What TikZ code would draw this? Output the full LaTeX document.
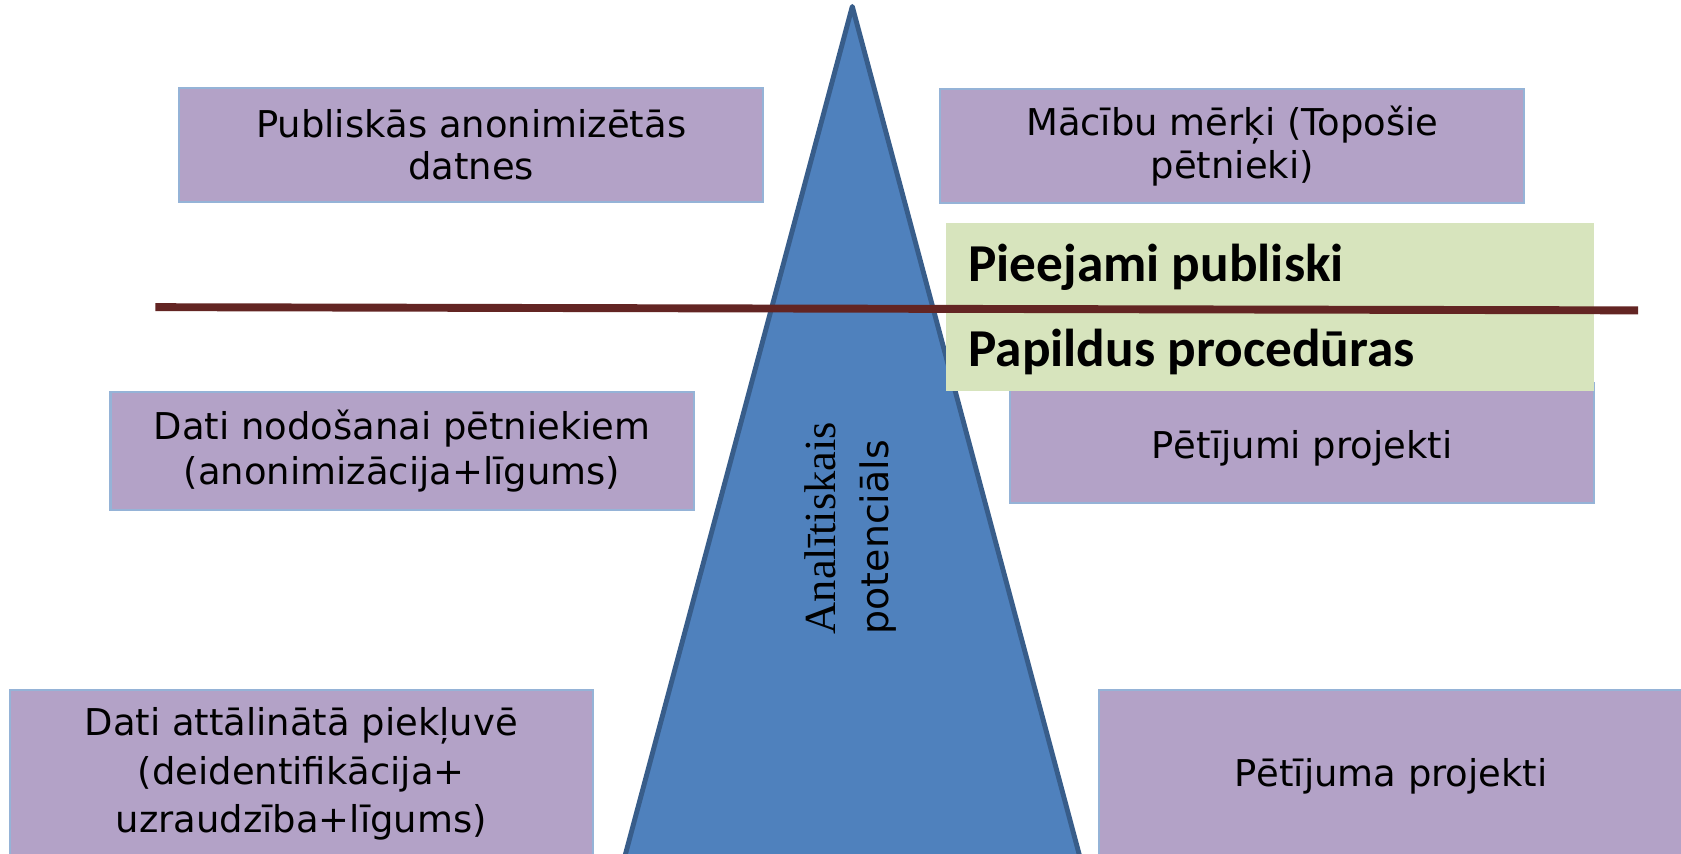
\documentclass[tikz,border=0pt]{standalone}
\usepackage{fontspec}
\setmainfont{DejaVu Sans}
\newfontfamily\calfont{Carlito}
\newfontfamily\serfont{Liberation Serif}
\definecolor{lav}{RGB}{179,162,199}
\definecolor{lavedge}{RGB}{149,179,215}
\definecolor{grn}{RGB}{215,228,189}
\definecolor{trifill}{RGB}{79,129,189}
\definecolor{triedge}{RGB}{56,93,138}
\definecolor{sepline}{RGB}{99,37,35}
\begin{document}
\begin{tikzpicture}[x=0.02cm,y=-0.02cm,
  box/.style={fill=lav,draw=lavedge,line width=1.1pt,inner sep=0pt,align=center,
    font=\fontsize{19.6}{22.7}\selectfont},
  greenbox/.style={fill=grn,draw=none,inner sep=0pt},
  boldlabel/.style={anchor=base west,inner sep=0pt,font=\calfont\bfseries\fontsize{28.3}{34}\selectfont},
  tri/.style={fill=trifill,draw=triedge,line width=2.6pt,line join=round},
  sep/.style={draw=sepline,line width=4.2pt},
  vlabel/.style={rotate=90,anchor=base west,inner sep=0pt}]
\useasboundingbox (0,0) rectangle (1568,796);
% boxes
\node[box,minimum width=10.9cm,minimum height=2.12cm] (b1) at (439.5,135) {Publiskās anonimizētās\\datnes};
\node[box,minimum width=10.9cm,minimum height=2.12cm] (b2) at (1149.5,136) {Mācību mērķi (Topošie\\pētnieki)};
\node[box,minimum width=10.88cm,minimum height=2.2cm,font=\fontsize{19.6}{23.8}\selectfont] (b3) at (375,421) {Dati nodošanai pētniekiem\\(anonimizācija+līgums)};
\node[box,minimum width=10.9cm,minimum height=2.24cm] (b4) at (1214.5,413) {\raisebox{-0.1cm}[\height][\depth]{Pētījumi projekti}};
\node[box,minimum width=10.88cm,minimum height=3.12cm,font=\fontsize{19.6}{25.8}\selectfont] (b5) at (281,722) {Dati attālinātā piekļuvē\\(deidentifikācija+\\uzraudzība+līgums)};
\node[box,minimum width=10.9cm,minimum height=3.12cm] (b6) at (1297.5,722) {\raisebox{-0.04cm}[\height][\depth]{Pētījuma projekti}};
% triangle
\draw[tri] (795,6) -- (1008,802) -- (582,802) -- cycle;
\node[vlabel,font=\serfont\fontsize{23.6}{28}\selectfont] (t1) at (779,592) {Analītiskais};
\node[vlabel,font=\fontsize{20.1}{24}\selectfont] (t2) at (829,592) {potenciāls};
% green box
\node[greenbox,minimum width=12.1cm,minimum height=3.14cm] (g) at (1184.5,286.5) {};
\node[boldlabel] (p1) at (903,263) {Pieejami publiski};
\node[boldlabel] (p2) at (903,342) {Papildus procedūras};
% separator line
\coordinate (l1) at (145,286.5);
\coordinate (l2) at (1528,289.5);
\draw[sep] (l1) -- (l2);
\end{tikzpicture}
\end{document}
